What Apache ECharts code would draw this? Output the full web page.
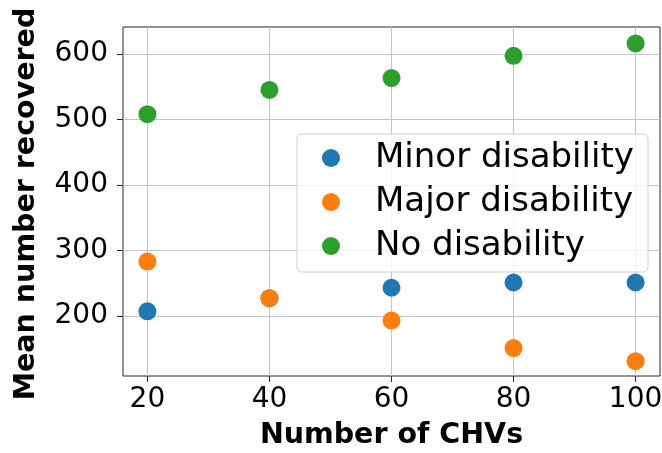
<!DOCTYPE html>
<html>
<head>
<meta charset="utf-8">
<script src="https://cdn.jsdelivr.net/npm/echarts@6/dist/echarts.min.js"></script>
<style>
html,body{margin:0;padding:0;background:#fff;}
#chart{width:662px;height:453px;}
</style>
</head>
<body>
<div id="chart"></div>
<script>
const chvs = [20, 40, 60, 80, 100];
const minorDisability = [207, 227, 243, 251, 251];
const majorDisability = [283, 227, 193, 151, 131];
const noDisability = [508, 545, 563, 597, 616];
const seriesNames = ['Minor disability', 'Major disability', 'No disability'];
const xTicks = [20, 40, 60, 80, 100];
const yTicks = [200, 300, 400, 500, 600];

const FONT = 'DejaVu Sans';
const colors = ['#1f77b4', '#ff7f0e', '#2ca02c'];
const pairs = arr => chvs.map((x, i) => [x, arr[i]]);

const chart = echarts.init(document.getElementById('chart'), null, {renderer: 'canvas'});
chart.setOption({
  animation: false,
  backgroundColor: '#fff',
  color: colors,
  grid: {left: 123, right: 2, top: 27, bottom: 77, outerBoundsMode: 'none', containLabel: false, show: true, borderColor: '#262626', borderWidth: 1, backgroundColor: 'transparent'},
  xAxis: {
    type: 'value', min: 16, max: 104,
    name: 'Number of CHVs', nameLocation: 'middle', nameGap: 45,
    nameTextStyle: {fontFamily: FONT, fontSize: 28.5, fontWeight: 'bold', color: '#000'},
    axisLine: {show: false},
    axisTick: {show: true, length: 6, customValues: xTicks, lineStyle: {color: '#262626', width: 1}},
    axisLabel: {customValues: xTicks, margin: 10, fontFamily: FONT, fontSize: 28, color: '#000'},
    splitLine: {show: true, lineStyle: {color: '#c4c4c4', width: 1}}
  },
  yAxis: {
    type: 'value', min: 108.3, max: 641,
    name: 'Mean number recovered', nameLocation: 'middle', nameGap: 82,
    nameTextStyle: {fontFamily: FONT, fontSize: 28.5, fontWeight: 'bold', color: '#000', padding: [0, 5, 0, 0]},
    axisLine: {show: false},
    axisTick: {show: true, length: 6, customValues: yTicks, lineStyle: {color: '#262626', width: 1}},
    axisLabel: {customValues: yTicks, margin: 15, fontFamily: FONT, fontSize: 28, color: '#000'},
    splitLine: {show: true, lineStyle: {color: '#c4c4c4', width: 1}}
  },
  legend: {
    orient: 'vertical', left: 322, top: 136, padding: 0, itemGap: 0,
    itemWidth: 78, itemHeight: 18, icon: 'circle', z: 10,
    data: seriesNames,
    textStyle: {fontFamily: FONT, fontSize: 34, lineHeight: 44, color: '#000'}
  },
  graphic: [{
    type: 'rect', z: 5,
    shape: {x: 297, y: 134, width: 351, height: 138, r: 5},
    style: {fill: 'rgba(255,255,255,0.8)', stroke: '#d0d0d0', lineWidth: 1}
  }],
  series: [
    {name: seriesNames[0], type: 'scatter', symbolSize: 18, data: pairs(minorDisability), itemStyle: {opacity: 1}},
    {name: seriesNames[1], type: 'scatter', symbolSize: 18, data: pairs(majorDisability), itemStyle: {opacity: 1}},
    {name: seriesNames[2], type: 'scatter', symbolSize: 18, data: pairs(noDisability), itemStyle: {opacity: 1}}
  ]
});
</script>
</body>
</html>
